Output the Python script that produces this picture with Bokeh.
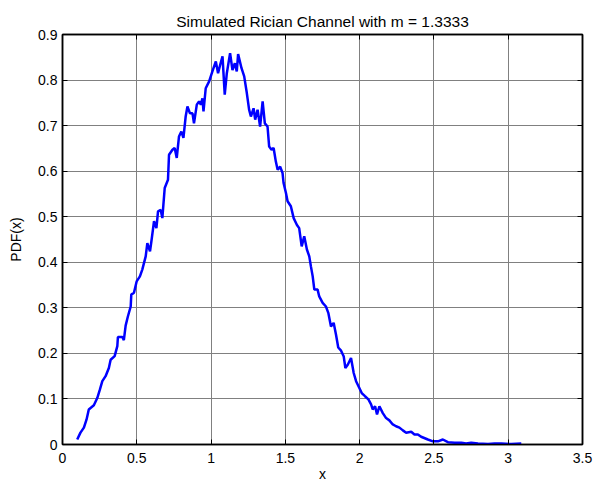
from bokeh.plotting import figure
from bokeh.models import LinearAxis, Range1d, FixedTicker, CustomJSTickFormatter
from bokeh.embed import file_html
from bokeh.resources import INLINE

x_vals = [0.099, 0.121, 0.144, 0.162, 0.177, 0.211, 0.234, 0.252, 0.268, 0.290,
          0.312, 0.324, 0.351, 0.369, 0.373, 0.403, 0.413, 0.425, 0.440, 0.459,
          0.463, 0.481, 0.499, 0.521, 0.537, 0.560, 0.571, 0.589, 0.600, 0.616,
          0.632, 0.643, 0.661, 0.672, 0.679, 0.688, 0.710, 0.717, 0.740, 0.755,
          0.769, 0.784, 0.800, 0.814, 0.829, 0.841, 0.858, 0.875, 0.885, 0.904,
          0.919, 0.931, 0.942, 0.949, 0.964, 0.987, 1.009, 1.032, 1.047, 1.061,
          1.077, 1.092, 1.106, 1.128, 1.144, 1.160, 1.173, 1.182, 1.205, 1.223,
          1.239, 1.256, 1.268, 1.286, 1.297, 1.313, 1.330, 1.347, 1.362, 1.380,
          1.391, 1.407, 1.421, 1.436, 1.448, 1.465, 1.481, 1.488, 1.504, 1.515,
          1.537, 1.556, 1.578, 1.593, 1.610, 1.627, 1.645, 1.661, 1.672, 1.684,
          1.695, 1.717, 1.728, 1.751, 1.773, 1.789, 1.807, 1.825, 1.841, 1.856,
          1.875, 1.893, 1.904, 1.920, 1.942, 1.960, 1.976, 1.998, 2.014, 2.036,
          2.059, 2.077, 2.088, 2.104, 2.117, 2.133, 2.156, 2.178, 2.200, 2.223,
          2.245, 2.268, 2.291, 2.313, 2.347, 2.369, 2.392, 2.414, 2.459, 2.493,
          2.527, 2.560, 2.594, 2.639, 2.684, 2.717, 2.751, 2.796, 2.864, 2.908,
          2.953, 3.021, 3.088]
pdf_vals = [0.011, 0.026, 0.037, 0.055, 0.077, 0.086, 0.102, 0.121, 0.139, 0.150,
            0.168, 0.186, 0.194, 0.216, 0.236, 0.236, 0.229, 0.261, 0.281, 0.303,
            0.329, 0.333, 0.358, 0.369, 0.384, 0.413, 0.442, 0.424, 0.450, 0.490,
            0.475, 0.512, 0.515, 0.497, 0.526, 0.563, 0.581, 0.636, 0.647, 0.651,
            0.629, 0.676, 0.687, 0.673, 0.720, 0.742, 0.727, 0.727, 0.705, 0.746,
            0.753, 0.746, 0.760, 0.731, 0.782, 0.797, 0.819, 0.841, 0.815, 0.833,
            0.852, 0.768, 0.815, 0.859, 0.822, 0.837, 0.819, 0.857, 0.826, 0.808,
            0.775, 0.735, 0.720, 0.738, 0.713, 0.735, 0.698, 0.753, 0.705, 0.698,
            0.654, 0.647, 0.651, 0.621, 0.603, 0.610, 0.596, 0.574, 0.552, 0.534,
            0.523, 0.497, 0.482, 0.475, 0.435, 0.457, 0.428, 0.413, 0.391, 0.369,
            0.340, 0.340, 0.325, 0.311, 0.303, 0.289, 0.259, 0.267, 0.241, 0.213,
            0.206, 0.193, 0.168, 0.175, 0.190, 0.157, 0.139, 0.124, 0.113, 0.106,
            0.099, 0.088, 0.077, 0.084, 0.066, 0.084, 0.069, 0.058, 0.053, 0.044,
            0.040, 0.037, 0.031, 0.026, 0.028, 0.022, 0.022, 0.017, 0.011, 0.007,
            0.007, 0.011, 0.005, 0.004, 0.004, 0.002, 0.004, 0.002, 0.001, 0.002,
            0.002, 0.001, 0.002]

x_ticks = [0, 0.5, 1, 1.5, 2, 2.5, 3, 3.5]
y_ticks = [0, 0.1, 0.2, 0.3, 0.4, 0.5, 0.6, 0.7, 0.8, 0.9]
title_text = "Simulated Rician Channel with m = 1.3333"
x_label = "x"
y_label = "PDF(x)"

FONT = "Liberation Sans"

p = figure(width=594, height=484, output_backend="svg", toolbar_location=None,
           x_range=Range1d(0, 3.5), y_range=Range1d(0, 0.9),
           min_border_left=62, min_border_right=12, min_border_top=34,
           min_border_bottom=39, title=title_text)

p.title.text_font = FONT
p.title.text_font_size = "15.5px"
p.title.text_font_style = "normal"
p.title.align = "center"
p.title.text_color = "#000000"
p.title.standoff = 9

p.line(x_vals, pdf_vals, line_color="#0000ff", line_width=2.5)

def style_axis(ax, ticks, show_labels):
    ax.ticker = FixedTicker(ticks=ticks)
    ax.major_tick_in = 5
    ax.major_tick_out = 0
    ax.minor_tick_in = 0
    ax.minor_tick_out = 0
    ax.major_tick_line_color = "#000000"
    ax.axis_line_color = "#000000"
    ax.axis_line_width = 1.5
    ax.major_label_text_font = FONT
    ax.major_label_text_font_size = "14px" if show_labels else "1px"
    ax.major_label_text_color = "#000000"
    ax.axis_label_text_font = FONT
    ax.axis_label_text_font_size = "14px"
    ax.axis_label_text_font_style = "normal"
    ax.axis_label_text_color = "#000000"
    if not show_labels:
        ax.major_label_standoff = 0
        ax.formatter = CustomJSTickFormatter(code="return ''")

style_axis(p.xaxis[0], x_ticks, True)
style_axis(p.yaxis[0], y_ticks, True)
p.xaxis[0].axis_label = x_label
p.yaxis[0].axis_label = y_label
p.xaxis[0].major_label_standoff = 8
p.yaxis[0].major_label_standoff = 5
p.xaxis[0].axis_label_standoff = 0
p.yaxis[0].axis_label_standoff = 11

top_ax = LinearAxis()
style_axis(top_ax, x_ticks, False)
p.add_layout(top_ax, "above")
right_ax = LinearAxis()
style_axis(right_ax, y_ticks, False)
p.add_layout(right_ax, "right")

p.xgrid.ticker = FixedTicker(ticks=x_ticks)
p.ygrid.ticker = FixedTicker(ticks=y_ticks)
p.grid.grid_line_color = "#808080"
p.grid.grid_line_width = 1
p.outline_line_color = "#000000"
p.outline_line_width = 1.5
p.background_fill_color = "#ffffff"
p.border_fill_color = "#ffffff"

open("out.html", "w").write(file_html(p, INLINE))
